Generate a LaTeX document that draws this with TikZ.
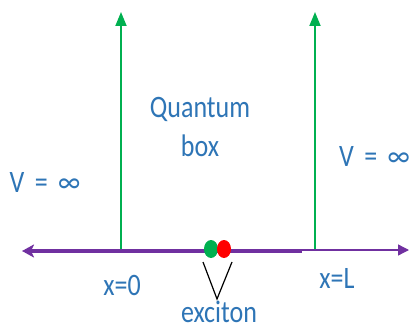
\documentclass[tikz,border=0pt]{standalone}
\usepackage{fontspec}
\usepackage{graphicx}
\setmainfont{Carlito}
\usetikzlibrary{arrows.meta,shapes.geometric}
\definecolor{wallgreen}{HTML}{00B050}
\definecolor{axispurple}{HTML}{7030A0}
\definecolor{textblue}{HTML}{2E75B6}
\newcommand{\tall}[1]{\scalebox{1}[1.2]{#1}}
\begin{document}
\begin{tikzpicture}[x=1pt, y=-1pt,
    wall/.style={-{Triangle[length=14pt, width=11pt]}, line width=1.8pt, wallgreen},
    lbl/.style={text=textblue, font=\fontsize{26}{39}\selectfont, inner sep=0pt},
    dot/.style={ellipse, minimum width=14pt, minimum height=18pt, inner sep=0pt}]
    % Khung hình
    \useasboundingbox (0,0) rectangle (409,331);

    % 1. Hai bức tường thế vô hạn
    \coordinate (wallLbot) at (121,250);
    \coordinate (wallLtop) at (121,12);
    \coordinate (wallRbot) at (315,250);
    \coordinate (wallRtop) at (315,12);
    \draw[wall] (wallLbot) -- (wallLtop);
    \draw[wall] (wallRbot) -- (wallRtop);

    % 2. Trục x (phần đậm bên trái, phần mảnh bên phải)
    \coordinate (axisL) at (22,251);
    \coordinate (axisK) at (302,251);
    \coordinate (axisR) at (409,250);
    \draw[axispurple, line width=4pt, {Stealth[length=12pt, width=13pt, inset=3pt]}-] (axisL) -- (axisK);
    \draw[axispurple, line width=1.3pt, -{Triangle[length=11pt, width=11pt]}] (axisK |- axisR) -- (axisR);

    % 3. Exciton: hai hạt xanh và đỏ
    \node[dot, fill=wallgreen] (hole) at (211,249) {};
    \node[dot, fill=red] (elec) at (224,249) {};
    \coordinate (vLeft) at (203,262);
    \coordinate (vRight) at (232,262);
    \coordinate (vTip) at (217,299);
    \draw[line width=1.2pt] (vLeft) -- (vTip) -- (vRight);

    % 4. Nhãn
    \node[lbl, align=center] (box) at (200,127) {\tall{Quantum}\\\tall{box}};
    \node[lbl, anchor=base] (potL) at (45,192) {\tall{V\hspace{0.4em}=\hspace{0.4em}∞}};
    \node[lbl, anchor=base west] (potR) at (339,167) {\tall{V\hspace{0.4em}=\hspace{0.4em}∞}};
    \node[lbl, anchor=base] (xzero) at (122,295) {\tall{x=0}};
    \node[lbl, anchor=base] (xlen) at (337,288) {\tall{x=L}};
    \node[lbl, anchor=base] (exc) at (219,322) {\tall{exciton}};
\end{tikzpicture}
\end{document}
